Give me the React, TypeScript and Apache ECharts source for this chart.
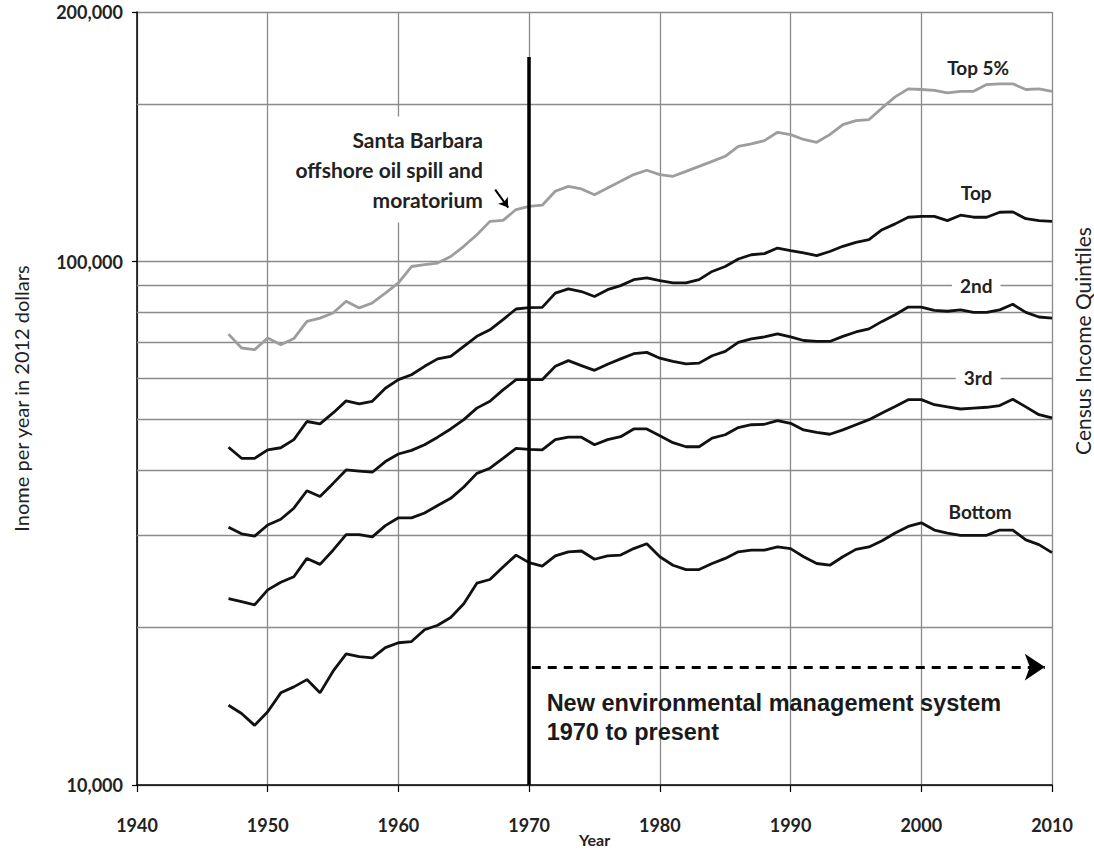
import React, { useEffect, useRef } from 'react';
import * as echarts from 'echarts';

const years = [
  1947, 1948, 1949, 1950, 1951, 1952, 1953, 1954, 1955, 1956,
  1957, 1958, 1959, 1960, 1961, 1962, 1963, 1964, 1965, 1966,
  1967, 1968, 1969, 1970, 1971, 1972, 1973, 1974, 1975, 1976,
  1977, 1978, 1979, 1980, 1981, 1982, 1983, 1984, 1985, 1986,
  1987, 1988, 1989, 1990, 1991, 1992, 1993, 1994, 1995, 1996,
  1997, 1998, 1999, 2000, 2001, 2002, 2003, 2004, 2005, 2006,
  2007, 2008, 2009, 2010,
];

const top5Pct = [
  72700, 68400, 67900, 71500, 69400, 71300, 76900, 78000, 79800, 84000,
  81600, 83400, 87100, 91100, 97900, 98700, 99400, 102300, 107000, 112600,
  119400, 119900, 125800, 127600, 128200, 136300, 139300, 137700, 134300, 138300,
  142400, 146700, 149500, 146700, 145600, 148800, 152100, 155500, 159000, 166100,
  167900, 170300, 176700, 174900, 171200, 169100, 174900, 182800, 186000, 186900,
  196700, 206500, 213900, 213300, 212500, 210200, 211600, 211600, 218000, 218700,
  218700, 213300, 213900, 211600,
];

const topQuintile = [
  44200, 42100, 42100, 43700, 44100, 45700, 49500, 49000, 51400, 54200,
  53500, 54100, 57300, 59500, 60800, 63100, 65200, 65900, 68900, 72000,
  74100, 77500, 81200, 81700, 81800, 87100, 88700, 87700, 85800, 88400,
  90000, 92400, 93100, 92000, 91100, 91100, 92400, 95800, 97900, 101200,
  103100, 103600, 106200, 105000, 103900, 102700, 104600, 107000, 108900, 110200,
  115100, 118100, 121600, 122100, 122100, 119800, 122700, 121600, 121600, 124300,
  124500, 120800, 119800, 119400,
];

const secondQuintile = [
  31100, 30200, 29900, 31400, 32200, 33800, 36500, 35600, 37700, 40000,
  39800, 39600, 41500, 42900, 43600, 44700, 46200, 47900, 49900, 52500,
  54100, 56900, 59500, 59500, 59500, 63100, 64700, 63300, 62000, 63700,
  65200, 66700, 67100, 65400, 64500, 63800, 64000, 66100, 67400, 70100,
  71200, 71800, 72800, 71800, 70700, 70400, 70400, 72000, 73400, 74400,
  76900, 79200, 81900, 81900, 80700, 80400, 80900, 80000, 80000, 80900,
  82900, 80000, 78400, 78000,
];

const thirdQuintile = [
  22700, 22400, 22100, 23600, 24400, 25000, 27100, 26400, 28100, 30100,
  30100, 29800, 31300, 32400, 32400, 33100, 34200, 35300, 37100, 39400,
  40300, 42100, 44000, 43800, 43700, 45700, 46200, 46200, 44700, 45700,
  46300, 47900, 47900, 46500, 45100, 44300, 44300, 46000, 46700, 48200,
  48800, 48900, 49700, 49100, 47700, 47200, 46800, 47700, 48800, 49900,
  51400, 52900, 54500, 54500, 53300, 52800, 52300, 52500, 52700, 53100,
  54600, 52800, 51000, 50300,
];

const bottomQuintile = [
  14200, 13700, 13000, 13800, 15000, 15400, 15900, 15000, 16500, 17800,
  17600, 17500, 18300, 18700, 18800, 19800, 20200, 20900, 22200, 24300,
  24700, 26100, 27500, 26600, 26200, 27400, 27900, 28000, 27000, 27400,
  27500, 28300, 28900, 27300, 26300, 25800, 25800, 26500, 27100, 27900,
  28100, 28100, 28500, 28300, 27300, 26500, 26300, 27300, 28200, 28500,
  29300, 30300, 31200, 31700, 30700, 30300, 30000, 30000, 30000, 30700,
  30700, 29400, 28800, 27800,
];

const yTickValues = [10000, 100000, 300000];
const yTickLabels = ['10,000', '100,000', '200,000'];
const extraGridValues = [20000, 30000, 40000, 50000, 60000, 70000, 80000, 90000, 200000];

const curveLabels = [
  { text: 'Top 5%', year: 2004.35, value: 235000, boxed: false },
  { text: 'Top', year: 2004.2, value: 135500, boxed: false },
  { text: '2nd', year: 2004.2, value: 90000, boxed: true },
  { text: '3rd', year: 2004.35, value: 60000, boxed: true },
  { text: 'Bottom', year: 2004.5, value: 33300, boxed: false },
];

const spillYear = 1970;
const spillLineTop = 246000;
const noteText = 'Santa Barbara\noffshore oil spill and\nmoratorium';
const noteAnchor = [1966.8, 150000];
const noteArrow = [[1967.4, 137300], [1968.4, 126900]];
const systemArrow = [[1970.2, 16800], [2009.45, 16800]];
const systemText = 'New environmental management system\n1970 to present';
const systemAnchor = [1971.3, 13450];

export default function App() {
  const ref = useRef<HTMLDivElement>(null);

  useEffect(() => {
    document.body.style.margin = '0';
    const chart = echarts.init(ref.current as HTMLDivElement, null, { renderer: 'svg' });
    const font = 'Lato, "Noto Sans", sans-serif';
    const grey = '#8a8a8a';
    const pair = (arr: number[]) => years.map((y, i) => [y, arr[i]]);
    const dataSeries = (name: string, arr: number[], color: string) => ({
      name,
      type: 'line',
      data: pair(arr),
      showSymbol: false,
      symbol: 'none',
      silent: true,
      z: 3,
      lineStyle: { color, width: 2.8 },
    });
    const emptySeries = (extra: any) => ({
      type: 'line',
      data: [],
      silent: true,
      ...extra,
    });

    const option: any = {
      animation: false,
      backgroundColor: '#ffffff',
      grid: { left: 137, right: 42, top: 12, bottom: 69, containLabel: false, outerBoundsMode: 'none' },
      xAxis: {
        type: 'value',
        min: 1940,
        max: 2010,
        interval: 10,
        name: 'Year',
        nameLocation: 'middle',
        nameGap: 46,
        nameMoveOverlap: false,
        nameTextStyle: { fontFamily: font, fontWeight: 'bold', fontSize: 16, lineHeight: 16, color: '#222' },
        axisLine: { show: true, lineStyle: { color: '#000', width: 1.5 } },
        axisTick: { show: true, length: 7, lineStyle: { color: '#000', width: 1.2 } },
        axisLabel: {
          formatter: (v: number) => String(v),
          fontFamily: font,
          fontWeight: 'bold',
          fontSize: 18,
          lineHeight: 18,
          color: '#222',
          margin: 31,
        },
        splitLine: { show: true, lineStyle: { color: grey, width: 1.3 } },
      },
      yAxis: {
        type: 'log',
        logBase: 10,
        min: 10000,
        max: 300000,
        name: 'Inome per year in 2012 dollars',
        nameLocation: 'middle',
        nameRotate: 90,
        nameGap: 106,
        nameMoveOverlap: false,
        nameTextStyle: { fontFamily: font, fontSize: 20, color: '#222' },
        axisLine: { show: true, lineStyle: { color: '#000', width: 1.5 } },
        axisTick: { show: true, length: 5, lineStyle: { color: '#000', width: 1.2 } },
        axisLabel: {
          formatter: (v: number) => {
            let best = 0;
            yTickValues.forEach((t, i) => {
              if (Math.abs(Math.log10(t) - Math.log10(v)) < Math.abs(Math.log10(yTickValues[best]) - Math.log10(v))) best = i;
            });
            return yTickLabels[best];
          },
          fontFamily: font,
          fontWeight: 'bold',
          fontSize: 18,
          color: '#222',
          margin: 14,
        },
        splitLine: { show: true, lineStyle: { color: grey, width: 1.3 } },
        minorTick: { show: false },
        minorSplitLine: { show: false },
      },
      series: [
        emptySeries({
          z: 1,
          markLine: {
            silent: true,
            z: 1,
            symbol: 'none',
            label: { show: false },
            emphasis: { disabled: true },
            lineStyle: { color: grey, width: 1.3, type: 'solid' },
            data: extraGridValues.map((v) => ({ yAxis: v })),
          },
        }),
        dataSeries('Top 5%', top5Pct, '#9d9d9d'),
        dataSeries('Top', topQuintile, '#111'),
        dataSeries('2nd', secondQuintile, '#111'),
        dataSeries('3rd', thirdQuintile, '#111'),
        dataSeries('Bottom', bottomQuintile, '#111'),
        emptySeries({
          z: 6,
          markLine: {
            silent: true,
            z: 6,
            symbol: 'none',
            label: { show: false },
            emphasis: { disabled: true },
            lineStyle: { color: '#000', width: 3.5, type: 'solid' },
            data: [[{ coord: [spillYear, 10000] }, { coord: [spillYear, spillLineTop] }]],
          },
        }),
        emptySeries({
          z: 6,
          markLine: {
            silent: true,
            z: 6,
            symbol: ['none', 'arrow'],
            symbolSize: 20,
            label: { show: false },
            emphasis: { disabled: true },
            lineStyle: { color: '#000', width: 3, type: [9, 7] },
            data: [[{ coord: systemArrow[0] }, { coord: systemArrow[1] }]],
          },
        }),
        emptySeries({
          z: 6,
          markLine: {
            silent: true,
            z: 6,
            symbol: ['none', 'arrow'],
            symbolSize: 9,
            label: { show: false },
            emphasis: { disabled: true },
            lineStyle: { color: '#000', width: 2, type: 'solid' },
            data: [[{ coord: noteArrow[0] }, { coord: noteArrow[1] }]],
          },
        }),
        emptySeries({
          z: 8,
          markPoint: {
            silent: true,
            z: 8,
            symbol: 'rect',
            symbolSize: 1,
            itemStyle: { color: 'rgba(0,0,0,0)' },
            data: [
              ...curveLabels.map((c) => ({
                coord: [c.year, c.value],
                label: {
                  show: true,
                  position: 'inside',
                  formatter: c.text,
                  fontFamily: font,
                  fontWeight: 'bold',
                  fontSize: 19,
                  color: '#222',
                  backgroundColor: c.boxed ? '#ffffff' : 'transparent',
                  padding: c.boxed ? [2, 8] : 0,
                },
              })),
              {
                coord: noteAnchor,
                label: {
                  show: true,
                  position: 'left',
                  distance: 0,
                  formatter: noteText,
                  align: 'right',
                  fontFamily: font,
                  fontWeight: 'bold',
                  fontSize: 21,
                  lineHeight: 30,
                  color: '#222',
                  backgroundColor: '#ffffff',
                  padding: [8, 4, 8, 8],
                },
              },
              {
                coord: systemAnchor,
                label: {
                  show: true,
                  position: 'right',
                  distance: 0,
                  formatter: systemText,
                  align: 'left',
                  fontFamily: '"Liberation Sans", Arial, sans-serif',
                  fontWeight: 'bold',
                  fontSize: 23.5,
                  lineHeight: 29,
                  color: '#1a1a1a',
                },
              },
            ],
          },
        }),
      ],
      graphic: [
        {
          type: 'text',
          x: 1082,
          y: 341,
          rotation: Math.PI / 2,
          style: {
            text: 'Census Income Quintiles',
            font: `21px ${font}`,
            fill: '#222',
            align: 'center',
            verticalAlign: 'middle',
          },
        },
      ],
    };

    chart.setOption(option);
    return () => chart.dispose();
  }, []);

  return <div ref={ref} style={{ width: 1094, height: 854 }} />;
}
